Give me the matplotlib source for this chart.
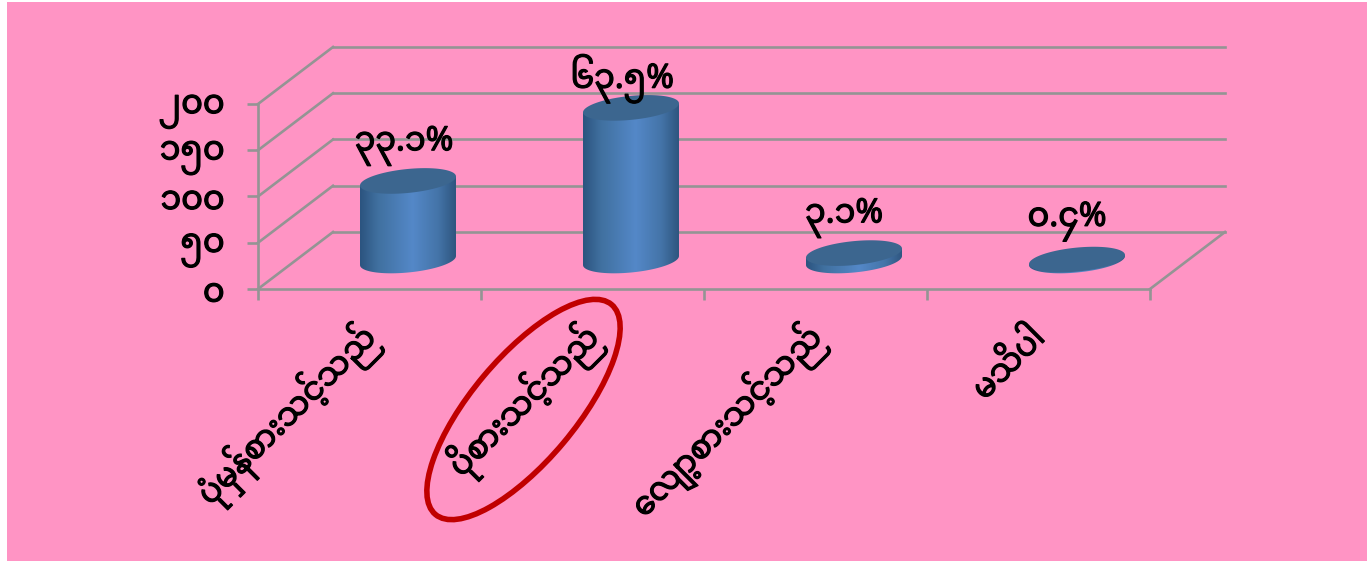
import numpy as np
import matplotlib
matplotlib.use("Agg")
import matplotlib.pyplot as plt
import matplotlib.patheffects as pe
from matplotlib.colors import LinearSegmentedColormap
from matplotlib.patches import Ellipse, Polygon, Rectangle
from matplotlib.transforms import IdentityTransform, ScaledTranslation

# the vowel sign of the third label is written first, matplotlib does not reorder it
categories = ["ပုံမှန်စားသင့်သည်", "ပိုစားသင့်သည်", "ေလျာ့စားသင့်သည်", "မသိပါ"]
counts = [86, 165, 8, 1]
percent_labels = ["၃၃.၁%", "၆၃.၅%", "၃.၁%", "၀.၄%"]
y_ticks = [0, 50, 100, 150, 200]
y_tick_labels = ["၀", "၅၀", "၁၀၀", "၁၅၀", "၂၀၀"]

W, H = 1367, 561
PINK = "#ff94c4"
GRID = "#949494"
FONT = ["Noto Sans Myanmar", "DejaVu Sans"]
BOLDER = [pe.withStroke(linewidth=0.9, foreground="black")]
LW = 1.9

# front plane of the chart in pixels
LEFT, RIGHT, BOTTOM, TOP = 258, 1150, 289, 104
# depth of the box, in data units
DEPTH_X = 75 / 223
DEPTH_Y = 57 / 0.925
BAR_A = 48 / 223
BAR_B = 12 / 0.925
BAR_TILT = 4.5 / 0.925
# where each percent label sits from the top of its bar, in pixels
label_offsets = [(-4, 35), (-9, 29), (-10, 35), (-10, 38)]

side_cmap = LinearSegmentedColormap.from_list(
    "side", [(0, "#2c5480"), (0.18, "#40709f"), (0.55, "#5488c8"), (0.82, "#4474a8"), (1, "#2f5680")]
)

fig = plt.figure(figsize=(W / 100, H / 100), dpi=100, facecolor="white")
fig.add_artist(Rectangle((7 / W, 0), 1 - 7 / W, 1 - 2 / H, transform=fig.transFigure, color=PINK, lw=0, zorder=-1))

ax = fig.add_axes([LEFT / W, (H - BOTTOM) / H, (RIGHT - LEFT) / W, (BOTTOM - TOP) / H])
ax.patch.set_visible(False)

# back wall and side wall
for v in y_ticks:
    ax.plot([DEPTH_X, 4 + DEPTH_X], [v + DEPTH_Y, v + DEPTH_Y], color=GRID, lw=LW, clip_on=False, zorder=1)
    ax.plot([0, DEPTH_X], [v, v + DEPTH_Y], color=GRID, lw=LW, clip_on=False, zorder=1)
ax.plot([4, 4 + DEPTH_X], [0, DEPTH_Y], color=GRID, lw=LW, clip_on=False, zorder=1)

# cylinders
t = np.linspace(0, 2 * np.pi, 121)
for i, v in enumerate(counts):
    cx = i + 0.5 + DEPTH_X / 2 + 1 / 223
    base = DEPTH_Y / 2
    ex = BAR_A * np.cos(t)
    ey = BAR_B * np.sin(t) + BAR_TILT * np.cos(t)
    low = t[60:121]
    body_x = np.concatenate([cx + BAR_A * np.cos(low), [cx + BAR_A, cx - BAR_A]])
    body_y = np.concatenate([
        base + BAR_B * np.sin(low) + BAR_TILT * np.cos(low),
        [base + v + BAR_TILT, base + v - BAR_TILT],
    ])
    body = Polygon(np.column_stack([body_x, body_y]), closed=True, transform=ax.transData, fc="none", ec="none")
    ax.add_patch(body)
    im = ax.imshow(
        np.linspace(0, 1, 100).reshape(1, -1), cmap=side_cmap, aspect="auto", zorder=3,
        extent=[cx - BAR_A, cx + BAR_A, base - 20, base + v + 20],
    )
    im.set_clip_path(body)
    ax.fill(cx + ex, base + v + ey, color="#3c668f", lw=0, clip_on=False, zorder=4)

    dx, dy = label_offsets[i]
    ax.annotate(percent_labels[i], (cx, base + v), xytext=(dx * 0.72, dy * 0.72), textcoords="offset points",
                ha="center", va="center", fontsize=24, family=FONT, color="black",
                annotation_clip=False, zorder=6, path_effects=BOLDER)

ax.set_xlim(0, 4)
ax.set_ylim(0, 200)

for name in ["top", "right"]:
    ax.spines[name].set_visible(False)
for name in ["left", "bottom"]:
    ax.spines[name].set_color(GRID)
    ax.spines[name].set_linewidth(LW)
    ax.spines[name].set_zorder(2)

ax.set_yticks(y_ticks, y_tick_labels, fontsize=24, family=FONT, path_effects=BOLDER)
ax.tick_params(axis="y", length=8, width=LW, color=GRID, pad=16)

ax.set_xticks([0, 1, 2, 3, 4], [""] * 5)
ax.tick_params(axis="x", which="major", length=8, width=LW, color=GRID)
ax.set_xticks([0.5, 1.5, 2.5, 3.5], categories, minor=True, fontsize=23, family=FONT,
              rotation=45, ha="right", va="center", rotation_mode="anchor", path_effects=BOLDER)
ax.tick_params(axis="x", which="minor", length=0, pad=0)
shift = ScaledTranslation(2 / 100, -44 / 100, fig.dpi_scale_trans)
for lab in ax.get_xticklabels(minor=True):
    lab.set_transform(lab.get_transform() + shift)

# red ring around the second category
ring = Ellipse((523.5, H - 409.5), 2 * 137, 2 * 52, angle=50, transform=IdentityTransform(),
               fc="none", ec="#c00000", lw=4, zorder=8)
fig.add_artist(ring)

fig.savefig("out.png", dpi=100, facecolor="white")
